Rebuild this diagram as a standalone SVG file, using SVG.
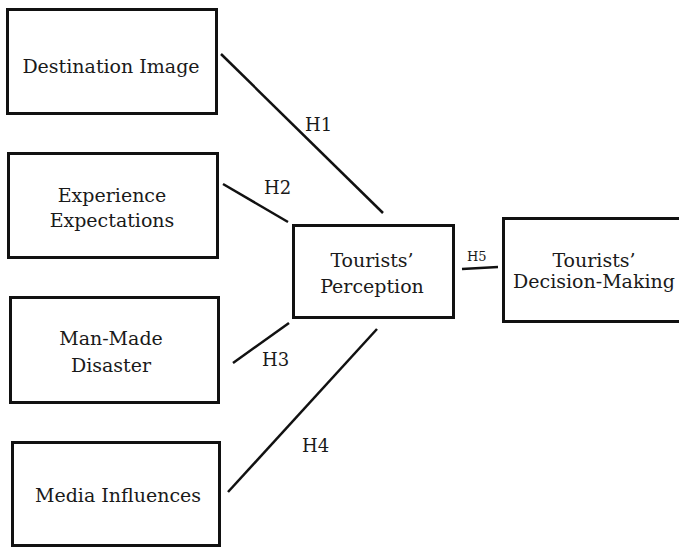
<svg xmlns="http://www.w3.org/2000/svg" width="679" height="547" viewBox="0 0 679 547">
<style>
.box{fill:#fff;stroke:#111;stroke-width:3}
.t{font-family:"DejaVu Serif","Liberation Serif",serif;font-size:19px;fill:#1a1a1a;text-anchor:middle}
.h{font-family:"DejaVu Serif","Liberation Serif",serif;font-size:18px;fill:#1a1a1a}
.c{stroke:#111;stroke-width:2.5;fill:none}
</style>
<rect width="679" height="547" fill="#fff"/>
<g id="connectors">
<line class="c" x1="221" y1="54" x2="383" y2="213"/>
<line class="c" x1="223" y1="184" x2="288" y2="222"/>
<line class="c" x1="233" y1="363" x2="289" y2="323"/>
<line class="c" x1="228" y1="492" x2="377" y2="329"/>
<line class="c" x1="462" y1="269" x2="498" y2="267"/>
<text class="h" x="305" y="131">H1</text>
<text class="h" x="264" y="194">H2</text>
<text class="h" x="262" y="366">H3</text>
<text class="h" x="302" y="452">H4</text>
<text class="h" x="467" y="261" style="font-size:13px">H5</text>
</g>
<g id="destination-image">
<rect class="box" x="7.5" y="9.5" width="209" height="104"/>
<text class="t" x="111" y="73">Destination Image</text>
</g>
<g id="experience-expectations">
<rect class="box" x="8.5" y="153.5" width="209" height="104"/>
<text class="t" x="112" y="202">Experience</text>
<text class="t" x="112" y="227">Expectations</text>
</g>
<g id="man-made-disaster">
<rect class="box" x="10.5" y="297.5" width="208" height="105"/>
<text class="t" x="111" y="345">Man-Made</text>
<text class="t" x="111" y="372">Disaster</text>
</g>
<g id="media-influences">
<rect class="box" x="12.5" y="442.5" width="207" height="103"/>
<text class="t" x="118" y="502">Media Influences</text>
</g>
<g id="tourists-perception">
<rect class="box" x="293.5" y="225.5" width="160" height="92"/>
<text class="t" x="372" y="267">Tourists’</text>
<text class="t" x="372" y="293">Perception</text>
</g>
<g id="tourists-decision-making">
<rect class="box" x="503.5" y="218.5" width="177" height="103"/>
<text class="t" x="594" y="267">Tourists’</text>
<text class="t" x="594" y="288">Decision-Making</text>
</g>
</svg>
